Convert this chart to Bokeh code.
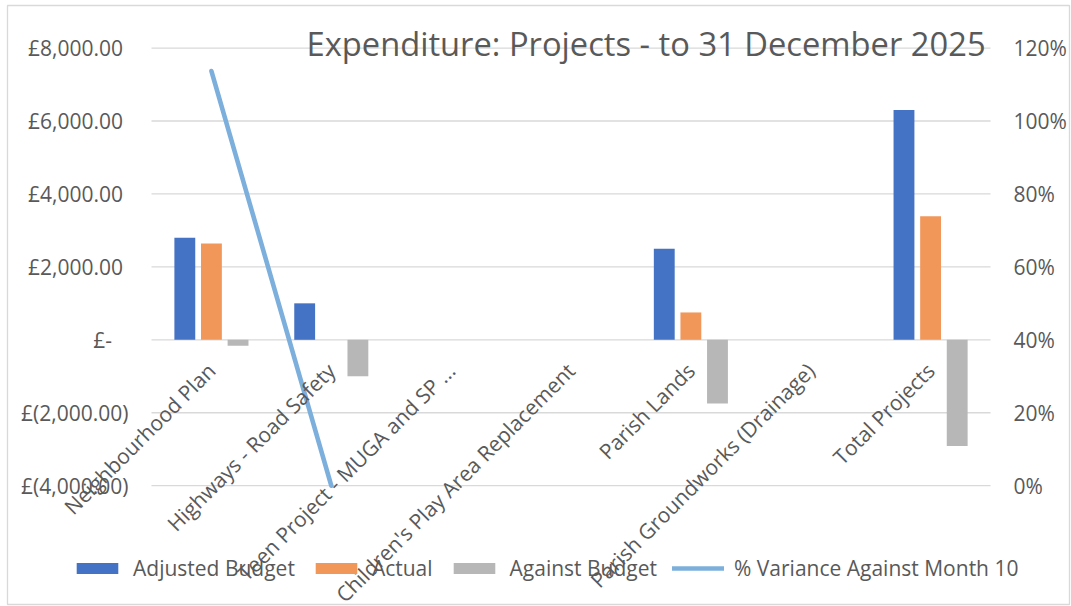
import math
from bokeh.plotting import figure
from bokeh.models import (ColumnDataSource, Range1d, LinearAxis, FixedTicker, Label,
                          Legend, LegendItem)
from bokeh.embed import file_html
from bokeh.resources import INLINE

# ---------------- data ----------------
categories = [
    "Neighbourhood Plan",
    "Highways - Road Safety",
    "Teen Project - MUGA and SP ...",
    "Children's Play Area Replacement",
    "Parish Lands",
    "Parish Groundworks (Drainage)",
    "Total Projects",
]
adjusted_budget = [2800, 1000, 0, 0, 2500, 0, 6300]
actual = [2640, 0, 0, 0, 750, 0, 3390]
against_budget = [-160, -1000, 0, 0, -1750, 0, -2910]
pct_variance = [1.137, 0.0, float("nan"), float("nan"), float("nan"), float("nan"), float("nan")]

left_ticks = [-4000, -2000, 0, 2000, 4000, 6000, 8000]
left_tick_labels = ["£(4,000.00)", "£(2,000.00)", "£-\u00a0\u00a0\u00a0", "£2,000.00\u00a0",
                    "£4,000.00\u00a0", "£6,000.00\u00a0", "£8,000.00\u00a0"]
right_ticks = [0.0, 0.2, 0.4, 0.6, 0.8, 1.0, 1.2]
right_tick_labels = ["0%", "20%", "40%", "60%", "80%", "100%", "120%"]

title_text = "Expenditure: Projects - to 31 December 2025"
series_names = ["Adjusted Budget", "Actual", "Against Budget", "% Variance Against Month 10"]

# ---------------- style / geometry ----------------
FONT = "Open Sans"
TXT = "#595959"
GRID = "#D9D9D9"
C_BLUE = "#4472C4"
C_ORANGE = "#F1975A"
C_GRAY = "#B7B7B7"
C_LINE = "#7DAFDD"

W, H = 1071, 606
FL, FR, FT, FB = 7, 1069, 5, 604          # frame edges (chart border)
PLOT_L = 151                               # start of the category area (px)
PX_CAT = 119.86                            # px per category
ZERO_PX = 339.3                            # px of the £0 line
PX_PER_UNIT = 0.036467                     # px per £
PCT_LO, PCT_HI = 0.0, 1.2                  # right-axis span mapped on left ticks
LEFT_LO, LEFT_HI = left_ticks[0], left_ticks[-1]

n = len(categories)
x_center = [i + 0.5 for i in range(n)]

x_start = (FL - PLOT_L) / PX_CAT
x_end = (FR - PLOT_L) / PX_CAT
y_start = (ZERO_PX - FB) / PX_PER_UNIT
y_end = (ZERO_PX - FT) / PX_PER_UNIT


def to_pct(v):
    return PCT_LO + (v - LEFT_LO) * (PCT_HI - PCT_LO) / (LEFT_HI - LEFT_LO)


off = 0.222
bw = 0.174
src = ColumnDataSource(dict(
    x=x_center,
    xb=[c - off for c in x_center],
    xg=[c + off for c in x_center],
    cat=categories, budget=adjusted_budget, actual=actual,
    against=against_budget, pct=pct_variance))

p = figure(width=W, height=H, output_backend="svg", toolbar_location=None,
           x_range=Range1d(x_start, x_end), y_range=Range1d(y_start, y_end),
           min_border_left=FL, min_border_right=W - FR, min_border_top=FT,
           min_border_bottom=H - FB, x_axis_location=None, y_axis_location=None)
p.outline_line_color = GRID
p.outline_line_width = 1.3
p.background_fill_color = "white"
p.border_fill_color = "white"
p.xgrid.visible = False
p.ygrid.visible = False
p.extra_y_ranges = {"pct": Range1d(to_pct(y_start), to_pct(y_end))}

# horizontal gridlines spanning only the category area
grid_src = ColumnDataSource(dict(y=left_ticks, x0=[0] * len(left_ticks), x1=[n] * len(left_ticks)))
p.segment(x0="x0", x1="x1", y0="y", y1="y", source=grid_src, line_color=GRID, line_width=1.3)


def style_axis(ax, standoff):
    ax.axis_line_color = None
    ax.major_tick_line_color = None
    ax.minor_tick_line_color = None
    ax.major_tick_in = 0
    ax.major_tick_out = 0
    ax.major_label_standoff = standoff
    ax.major_label_text_font = FONT
    ax.major_label_text_font_size = "21px"
    ax.major_label_text_color = TXT


# left axis (currency)
la = LinearAxis(ticker=FixedTicker(ticks=left_ticks), fixed_location=0)
la.major_label_overrides = {t: l for t, l in zip(left_ticks, left_tick_labels)}
style_axis(la, 23)
p.add_layout(la, "left")

# right axis (percent)
ra = LinearAxis(y_range_name="pct", ticker=FixedTicker(ticks=right_ticks), fixed_location=n)
ra.major_label_overrides = {t: l for t, l in zip(right_ticks, right_tick_labels)}
style_axis(ra, 23)
p.add_layout(ra, "right")

# category axis placed at the £0 line, labels rotated 45 degrees
ca = LinearAxis(ticker=FixedTicker(ticks=x_center), fixed_location=0)
ca.major_label_overrides = {x: c for x, c in zip(x_center, categories)}
ca.major_label_orientation = math.pi / 4
style_axis(ca, 27)
p.add_layout(ca, "below")

r1 = p.vbar(x="xb", top="budget", width=bw, source=src, fill_color=C_BLUE, line_color=None)
r2 = p.vbar(x="x", top="actual", width=bw, source=src, fill_color=C_ORANGE, line_color=None)
r3 = p.vbar(x="xg", top="against", width=bw, source=src, fill_color=C_GRAY, line_color=None)
r4 = p.line(x="x", y="pct", source=src, y_range_name="pct", line_color=C_LINE,
            line_width=4.6, line_cap="round")

# title overlapping the plot area
title = Label(x=(306 - PLOT_L) / PX_CAT, y=(ZERO_PX - 43) / PX_PER_UNIT, text=title_text,
              text_font=FONT, text_font_size="32.7px", text_color=TXT,
              text_align="left", text_baseline="alphabetic")
p.add_layout(title)

legend = Legend(items=[LegendItem(label=series_names[0], renderers=[r1]),
                       LegendItem(label=series_names[1], renderers=[r2]),
                       LegendItem(label=series_names[2], renderers=[r3]),
                       LegendItem(label=series_names[3], renderers=[r4])],
                orientation="horizontal", location=(71 - FL, 22),
                glyph_width=52, glyph_height=14, label_height=14, label_standoff=10,
                spacing=15, padding=0, margin=0, border_line_color=None,
                background_fill_alpha=0,
                label_text_font=FONT, label_text_font_size="21px", label_text_color=TXT)
p.add_layout(legend, "center")

open("out.html", "w").write(file_html(p, INLINE))
